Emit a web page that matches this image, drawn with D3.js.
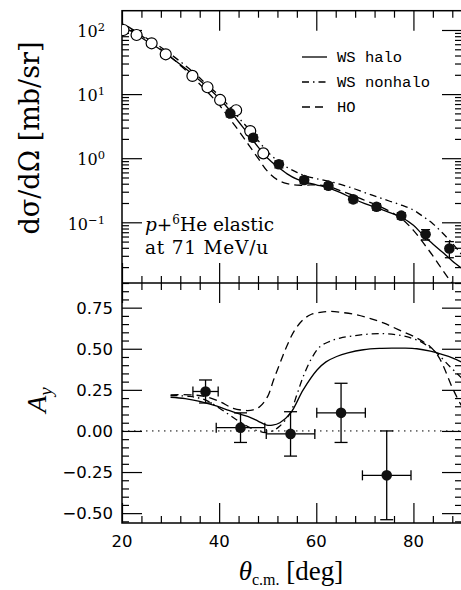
<!DOCTYPE html>
<html><head><meta charset="utf-8">
<script src="https://cdn.jsdelivr.net/npm/d3@7"></script>
<style>body{margin:0;background:#fff}svg{display:block}</style>
</head><body><svg id="c" width="461" height="590"></svg>
<script>
// ---------- data ----------
const xMajorTicks = [20, 40, 60, 80];
const sigmaMajorExp = [2, 1, 0, -1];
const ayMajorTicks = [0.75, 0.5, 0.25, 0, -0.25, -0.5];
const ayTickLabels = ["0.75", "0.50", "0.25", "0.00", "\u22120.25", "\u22120.50"];

// open circles (cross section, earlier data)
const openAngle = [20.3, 23.0, 26.1, 29.0, 34.5, 37.6, 40.2, 43.5, 46.4, 49.1];
const openSigma = [100, 83.5, 62, 41.8, 19.2, 12.8, 8.1, 5.6, 2.65, 1.19];

// filled circles (cross section, this data)
const filledAngle = [42.3, 47.0, 52.3, 57.5, 62.5, 67.6, 72.4, 77.5, 82.5, 87.4];
const filledSigma = [5.0, 2.09, 0.805, 0.457, 0.371, 0.228, 0.175, 0.127, 0.065, 0.039];
const filledSigmaErr = [0.6, 0.25, 0.1, 0.05, 0.04, 0.025, 0.02, 0.015, 0.012, 0.011];

// model curves, cross section
const sigAngle = [19, 20, 22.5, 25, 27.5, 30, 32.5, 35, 37.5, 40, 42, 44, 46, 48, 50, 52, 54, 56, 58, 60, 62.5, 65, 67.5, 70, 72.5, 75, 77.5, 80, 82, 84, 86, 88, 90];
const sigWSHalo = [130, 115, 90, 68, 52, 38, 27, 19, 13, 8.6, 5.8, 3.7, 2.4, 1.5, 1.0, 0.74, 0.57, 0.47, 0.42, 0.385, 0.345, 0.29, 0.235, 0.195, 0.168, 0.143, 0.12, 0.09, 0.063, 0.046, 0.034, 0.025, 0.019];
const sigWSNonhalo = [140, 125, 98, 75, 57, 42, 30, 21, 14, 9.5, 6.5, 4.3, 2.9, 1.9, 1.25, 0.92, 0.72, 0.6, 0.52, 0.48, 0.44, 0.39, 0.34, 0.29, 0.25, 0.215, 0.186, 0.155, 0.123, 0.095, 0.068, 0.047, 0.031];
const sigHO = [150, 130, 98, 72, 53, 38, 26, 17, 11, 6.8, 4.3, 2.7, 1.65, 1.0, 0.62, 0.46, 0.4, 0.38, 0.38, 0.385, 0.36, 0.31, 0.265, 0.22, 0.185, 0.15, 0.115, 0.075, 0.048, 0.03, 0.018, 0.011, 0.007];

// analyzing power data
const ayAngle = [37.2, 44.4, 54.7, 65.1, 74.5];
const ayValue = [0.24, 0.02, -0.018, 0.11, -0.27];
const ayErr = [0.07, 0.09, 0.135, 0.18, 0.27];
const ayAngleErr = [2.6, 5, 5, 5, 5];

// model curves, analyzing power
const ayHaloAngle = [30, 33, 36, 39, 42, 44, 46, 48, 49.8, 51, 52.5, 54.7, 57.3, 60.2, 62, 64.2, 66.5, 69.7, 73, 75.9, 78, 80.7, 83.5, 86.2, 88, 90];
const ayHalo = [0.205, 0.197, 0.18, 0.155, 0.125, 0.105, 0.087, 0.06, 0.035, 0.035, 0.05, 0.108, 0.25, 0.372, 0.42, 0.453, 0.475, 0.494, 0.502, 0.504, 0.504, 0.5, 0.485, 0.463, 0.445, 0.418];
const ayNonhaloAngle = [30, 34, 37, 40, 42, 44, 46, 48, 49.5, 51, 52.5, 54.6, 56, 57.3, 59, 60.8, 62.8, 64.9, 68, 71.1, 74, 76.6, 79, 81.4, 83, 84.8, 87.5, 90];
const ayNonhalo = [0.215, 0.21, 0.19, 0.14, 0.1, 0.06, 0.025, 0.0, -0.01, 0.0, 0.03, 0.108, 0.22, 0.33, 0.44, 0.514, 0.545, 0.565, 0.58, 0.59, 0.592, 0.585, 0.57, 0.545, 0.515, 0.474, 0.392, 0.32];
const ayHOAngle = [30, 34, 37, 40, 42.9, 45.7, 47, 48.4, 50, 51.2, 52.5, 53.9, 55.5, 57.3, 59, 60.8, 62.8, 65.5, 68.3, 71, 73.8, 77, 80.7, 83.4, 85, 86.2, 87.9, 89.6, 90];
const ayHO = [0.22, 0.22, 0.21, 0.18, 0.138, 0.124, 0.128, 0.148, 0.21, 0.31, 0.41, 0.514, 0.61, 0.677, 0.71, 0.721, 0.727, 0.72, 0.707, 0.685, 0.657, 0.615, 0.565, 0.514, 0.46, 0.392, 0.27, 0.169, 0.15];

const legendLabels = ["WS halo", "WS nonhalo", "HO"];
const legendDash = [null, "7,4,1.5,4", "8,5"];

// ---------- layout ----------
const svg = d3.select("#c");
const L = 122, R = 462, T = 10.7, M = 283, B = 523;
const x = d3.scaleLinear([20, 90], [L, R]);
const yS = d3.scaleLog([0.0113, 200], [M, T]);
const yA = d3.scaleLinear([-0.56, 0.90], [B, M]);

const defs = svg.append("defs");
defs.append("clipPath").attr("id", "clipTop").append("rect").attr("x", L).attr("y", T).attr("width", R - L).attr("height", M - T);
defs.append("clipPath").attr("id", "clipBot").append("rect").attr("x", L).attr("y", M).attr("width", R - L).attr("height", B - M);

function tickGroup(axisGen, values, size, tx, ty) {
  const g = svg.append("g").attr("transform", `translate(${tx},${ty})`);
  g.call(axisGen.tickValues(values).tickSize(size).tickFormat(""));
  g.select(".domain").remove();
  g.selectAll("text").remove();
  g.selectAll("line").attr("stroke", "#000").attr("stroke-width", 1.2);
  return g;
}
const xMinor = d3.range(20, 90.1, 4).filter(v => !xMajorTicks.includes(v));
[[d3.axisTop, T], [d3.axisBottom, M], [d3.axisTop, M], [d3.axisBottom, B]].forEach(([ax, yy]) => {
  tickGroup(ax(x), xMajorTicks, -20, 0, yy);
  tickGroup(ax(x), xMinor, -7, 0, yy);
});
const logMinor = [];
for (let d = -2; d <= 2; d++) for (let m = 2; m <= 9; m++) { const v = m * Math.pow(10, d); if (v > 0.0113 && v < 200) logMinor.push(v); }
const sigMajor = sigmaMajorExp.map(e => Math.pow(10, e));
[[d3.axisLeft, L], [d3.axisRight, R]].forEach(([ax, xx]) => {
  tickGroup(ax(yS), sigMajor, -20, xx, 0);
  tickGroup(ax(yS), logMinor, -7, xx, 0);
});
const ayMinor = d3.range(-0.55, 0.9, 0.05).map(v => Math.round(v * 100) / 100).filter(v => !ayMajorTicks.includes(v));
[[d3.axisLeft, L], [d3.axisRight, R]].forEach(([ax, xx]) => {
  tickGroup(ax(yA), ayMajorTicks, -20, xx, 0);
  tickGroup(ax(yA), ayMinor, -7, xx, 0);
});

svg.append("rect").attr("x", L).attr("y", T).attr("width", R - L).attr("height", B - T)
  .attr("fill", "none").attr("stroke", "#000").attr("stroke-width", 1.5);
svg.append("line").attr("x1", L).attr("x2", R).attr("y1", M).attr("y2", M).attr("stroke", "#000").attr("stroke-width", 1.5);

const serif = "DejaVu Serif", sans = "DejaVu Sans";
sigmaMajorExp.forEach(e => {
  const t = svg.append("text").attr("x", 105).attr("y", yS(Math.pow(10, e)) + 7.3)
    .attr("text-anchor", "end").attr("font-family", serif).attr("font-size", 16).attr("fill", "#000");
  t.append("tspan").text("10");
  t.append("tspan").attr("dy", -6).attr("font-size", 11.5).text(e < 0 ? "\u2212" + (-e) : String(e));
});
ayMajorTicks.forEach((v, i) => {
  svg.append("text").attr("x", 113).attr("y", yA(v) + 6.3).attr("text-anchor", "end")
    .attr("font-family", sans).attr("font-size", 16.5).attr("fill", "#000").text(ayTickLabels[i]);
});
xMajorTicks.forEach(v => {
  svg.append("text").attr("x", x(v)).attr("y", 546.5).attr("text-anchor", "middle")
    .attr("font-family", sans).attr("font-size", 16.5).attr("fill", "#000").text(String(v));
});

svg.append("text").attr("transform", "translate(39,138) rotate(-90)").attr("text-anchor", "middle")
  .attr("font-family", serif).attr("font-size", 27).attr("fill", "#000").text("d\u03c3/d\u03a9 [mb/sr]");
const ayT = svg.append("text").attr("transform", "translate(46,400) rotate(-90)").attr("text-anchor", "middle")
  .attr("font-family", "Liberation Serif").attr("font-size", 28).attr("font-style", "italic").attr("fill", "#000");
ayT.append("tspan").text("A");
ayT.append("tspan").attr("dy", 6).attr("font-size", 19).text("y");
const thT = svg.append("text").attr("x", 291).attr("y", 580).attr("text-anchor", "middle")
  .attr("font-family", "Liberation Serif").attr("font-size", 27).attr("fill", "#000");
thT.append("tspan").attr("font-style", "italic").text("\u03b8");
thT.append("tspan").attr("dy", 4.5).attr("font-size", 16).text("c.m.");
thT.append("tspan").attr("dy", -4.5).text(" [deg]");

const a1 = svg.append("text").attr("x", 145).attr("y", 231).attr("font-family", serif).attr("font-size", 18.5).attr("fill", "#000");
a1.append("tspan").attr("font-style", "italic").text("p");
a1.append("tspan").text("+");
a1.append("tspan").attr("dy", -7).attr("font-size", 12).text("6");
a1.append("tspan").attr("dy", 7).text("He elastic");
svg.append("text").attr("x", 145).attr("y", 254).attr("font-family", serif).attr("font-size", 18.5)
  .attr("letter-spacing", 0.8).attr("fill", "#000").text("at 71 MeV/u");

legendLabels.forEach((lab, i) => {
  const yy = 57 + i * 25;
  svg.append("line").attr("x1", 302).attr("x2", 327).attr("y1", yy).attr("y2", yy)
    .attr("stroke", "#000").attr("stroke-width", 1.3).attr("stroke-dasharray", legendDash[i]);
  svg.append("text").attr("x", 337).attr("y", yy + 5).attr("font-family", "Liberation Mono")
    .attr("font-size", 15.5).attr("fill", "#000").text(lab);
});

function drawCurve(clip, xs, ys, yScale, dash) {
  const pts = xs.map((v, i) => [x(v), yScale(ys[i])]);
  svg.append("path").attr("clip-path", `url(#${clip})`).attr("d", d3.line().curve(d3.curveCatmullRom.alpha(0.5))(pts))
    .attr("fill", "none").attr("stroke", "#000").attr("stroke-width", 1.3).attr("stroke-dasharray", dash);
}
drawCurve("clipTop", sigAngle, sigWSHalo, yS, null);
drawCurve("clipTop", sigAngle, sigWSNonhalo, yS, legendDash[1]);
drawCurve("clipTop", sigAngle, sigHO, yS, legendDash[2]);
drawCurve("clipBot", ayHaloAngle, ayHalo, yA, null);
drawCurve("clipBot", ayNonhaloAngle, ayNonhalo, yA, legendDash[1]);
drawCurve("clipBot", ayHOAngle, ayHO, yA, legendDash[2]);

svg.append("line").attr("x1", L).attr("x2", R).attr("y1", yA(0)).attr("y2", yA(0))
  .attr("stroke", "#000").attr("stroke-width", 1).attr("stroke-dasharray", "1.5,4.5");

const gTop = svg.append("g").attr("clip-path", "url(#clipTop)");
filledAngle.forEach((a, i) => {
  const y1 = yS(filledSigma[i] + filledSigmaErr[i]), y2 = yS(filledSigma[i] - filledSigmaErr[i]), cx = x(a);
  gTop.append("line").attr("x1", cx).attr("x2", cx).attr("y1", y1).attr("y2", y2).attr("stroke", "#000").attr("stroke-width", 1.3);
  [y1, y2].forEach(yy => gTop.append("line").attr("x1", cx - 4.5).attr("x2", cx + 4.5).attr("y1", yy).attr("y2", yy).attr("stroke", "#000").attr("stroke-width", 1.3));
});
gTop.selectAll("circle.o").data(openAngle).join("circle").attr("class", "o")
  .attr("cx", d => x(d)).attr("cy", (d, i) => yS(openSigma[i])).attr("r", 5.5)
  .attr("fill", "#fff").attr("stroke", "#000").attr("stroke-width", 1.2);
gTop.selectAll("circle.f").data(filledAngle).join("circle").attr("class", "f")
  .attr("cx", d => x(d)).attr("cy", (d, i) => yS(filledSigma[i])).attr("r", 5.3).attr("fill", "#111");

const gBot = svg.append("g");
ayAngle.forEach((a, i) => {
  const cx = x(a), cy = yA(ayValue[i]);
  const y1 = yA(ayValue[i] + ayErr[i]), y2 = yA(ayValue[i] - ayErr[i]);
  const x1 = x(a - ayAngleErr[i]), x2 = x(a + ayAngleErr[i]);
  const ln = (a1, b1, a2, b2) => gBot.append("line").attr("x1", a1).attr("y1", b1).attr("x2", a2).attr("y2", b2).attr("stroke", "#000").attr("stroke-width", 1.3);
  ln(cx, y1, cx, y2); ln(cx - 6.5, y1, cx + 6.5, y1); ln(cx - 6.5, y2, cx + 6.5, y2);
  ln(x1, cy, x2, cy); ln(x1, cy - 5, x1, cy + 5); ln(x2, cy - 5, x2, cy + 5);
});
gBot.selectAll("circle").data(ayAngle).join("circle")
  .attr("cx", d => x(d)).attr("cy", (d, i) => yA(ayValue[i])).attr("r", 5.3).attr("fill", "#111");
</script></body></html>
